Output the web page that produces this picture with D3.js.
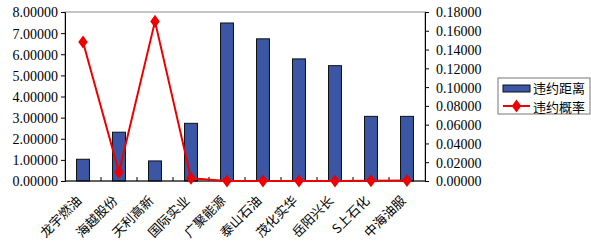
<!DOCTYPE html>
<html>
<head>
<meta charset="utf-8">
<script src="https://cdn.jsdelivr.net/npm/d3@7"></script>
<style>
body { margin: 0; background: #fff; }
svg { display: block; }
</style>
</head>
<body>
<script>
var categories = ["龙宇燃油", "海越股份", "天利高新", "国际实业", "广聚能源", "泰山石油", "茂化实华", "岳阳兴长", "S上石化", "中海油服"];
var distance = [1.03, 2.31, 0.95, 2.73, 7.48, 6.73, 5.78, 5.46, 3.06, 3.06];
var probability = [0.148, 0.0093, 0.170, 0.0029, 0.0, 0.0, 0.0, 0.0, 0.0003, 0.0005];
var leftTicks = [0, 1, 2, 3, 4, 5, 6, 7, 8];
var rightTicks = [0, 0.02, 0.04, 0.06, 0.08, 0.10, 0.12, 0.14, 0.16, 0.18];
var seriesNames = ["违约距离", "违约概率"];

var W = 591, H = 248;
var margin = {top: 12, right: 166, bottom: 67, left: 65},
    width = W - margin.left - margin.right,
    height = H - margin.top - margin.bottom;

var barColor = "#3a56a5", lineColor = "#ee0000";
var numFont = "'Liberation Serif', 'Times New Roman', serif";
var cjkFont = "'Noto Sans CJK SC', sans-serif";

var svg = d3.select("body").append("svg")
    .attr("width", W)
    .attr("height", H);

var g = svg.append("g")
    .attr("transform", "translate(" + margin.left + "," + margin.top + ")");

var x = d3.scaleBand().domain(categories).range([0, width]);
var yL = d3.scaleLinear().domain([0, 8]).range([height, 0]);
var yR = d3.scaleLinear().domain([0, 0.18]).range([height, 0]);

// plot frame
g.append("rect")
    .attr("width", width).attr("height", height)
    .attr("fill", "#fff").attr("stroke", "#8c8c8c").attr("stroke-width", 1);

// bars
var bw = x.bandwidth() * 0.36;
g.selectAll(".bar").data(distance).enter().append("rect")
    .attr("x", function(d, i) { return x(categories[i]) + x.bandwidth() / 2 - bw / 2; })
    .attr("y", function(d) { return yL(d); })
    .attr("width", bw)
    .attr("height", function(d) { return height - yL(d); })
    .attr("fill", barColor)
    .attr("stroke", "#111")
    .attr("stroke-width", 1);

// left axis
var axL = g.append("g")
    .call(d3.axisLeft(yL).tickValues(leftTicks).tickSize(4).tickFormat(d3.format(".5f")));
axL.selectAll("text").attr("font-family", numFont).attr("font-size", 14).attr("fill", "#000").attr("dy", "0.35em");
axL.selectAll("line,path").attr("stroke", "#000");

// right axis
var axR = g.append("g")
    .attr("transform", "translate(" + width + ",0)")
    .call(d3.axisRight(yR).tickValues(rightTicks).tickSize(4).tickPadding(7).tickFormat(d3.format(".5f")));
axR.selectAll("text").attr("font-family", numFont).attr("font-size", 14).attr("fill", "#000").attr("dy", "0.35em");
axR.selectAll("line,path").attr("stroke", "#000");

// bottom axis with inside ticks at category boundaries
g.append("line")
    .attr("x1", 0).attr("x2", width).attr("y1", height).attr("y2", height)
    .attr("stroke", "#000");
g.selectAll(".ctick").data(categories.slice(1)).enter().append("line")
    .attr("x1", function(d) { return x(d); }).attr("x2", function(d) { return x(d); })
    .attr("y1", height).attr("y2", height - 4)
    .attr("stroke", "#000");

g.selectAll(".clabel").data(categories).enter().append("text")
    .attr("transform", function(d) {
        return "translate(" + (x(d) + x.bandwidth() / 2 - 7) + "," + (height + 14) + ") rotate(-45)";
    })
    .attr("text-anchor", "end")
    .attr("dy", "0.7em")
    .attr("font-family", cjkFont)
    .attr("font-size", 13)
    .text(function(d) { return d; });

// probability line
var line = d3.line()
    .x(function(d, i) { return x(categories[i]) + x.bandwidth() / 2; })
    .y(function(d) { return yR(d); });

g.append("path")
    .attr("d", line(probability))
    .attr("fill", "none")
    .attr("stroke", lineColor)
    .attr("stroke-width", 2);

var diamond = d3.symbol().type(d3.symbolDiamond).size(50);
g.selectAll(".pt").data(probability).enter().append("path")
    .attr("d", diamond)
    .attr("transform", function(d, i) {
        return "translate(" + (x(categories[i]) + x.bandwidth() / 2) + "," + yR(d) + ") scale(1.25,1)";
    })
    .attr("fill", lineColor);

// legend
var lg = svg.append("g").attr("transform", "translate(498,78)");
lg.append("rect").attr("width", 92).attr("height", 36)
    .attr("fill", "#fff").attr("stroke", "#777");
lg.append("rect").attr("x", 5).attr("y", 7).attr("width", 27).attr("height", 7)
    .attr("fill", barColor).attr("stroke", "#111");
lg.append("line").attr("x1", 5).attr("x2", 32).attr("y1", 28).attr("y2", 28)
    .attr("stroke", lineColor).attr("stroke-width", 2);
lg.append("path").attr("d", diamond)
    .attr("transform", "translate(18.5,28) scale(1.25,1)")
    .attr("fill", lineColor);
lg.selectAll(".lt").data(seriesNames).enter().append("text")
    .attr("x", 35)
    .attr("y", function(d, i) { return 10.5 + i * 18.5; })
    .attr("dy", "0.35em")
    .attr("font-family", cjkFont)
    .attr("font-size", 13)
    .text(function(d) { return d; });
</script>
</body>
</html>
